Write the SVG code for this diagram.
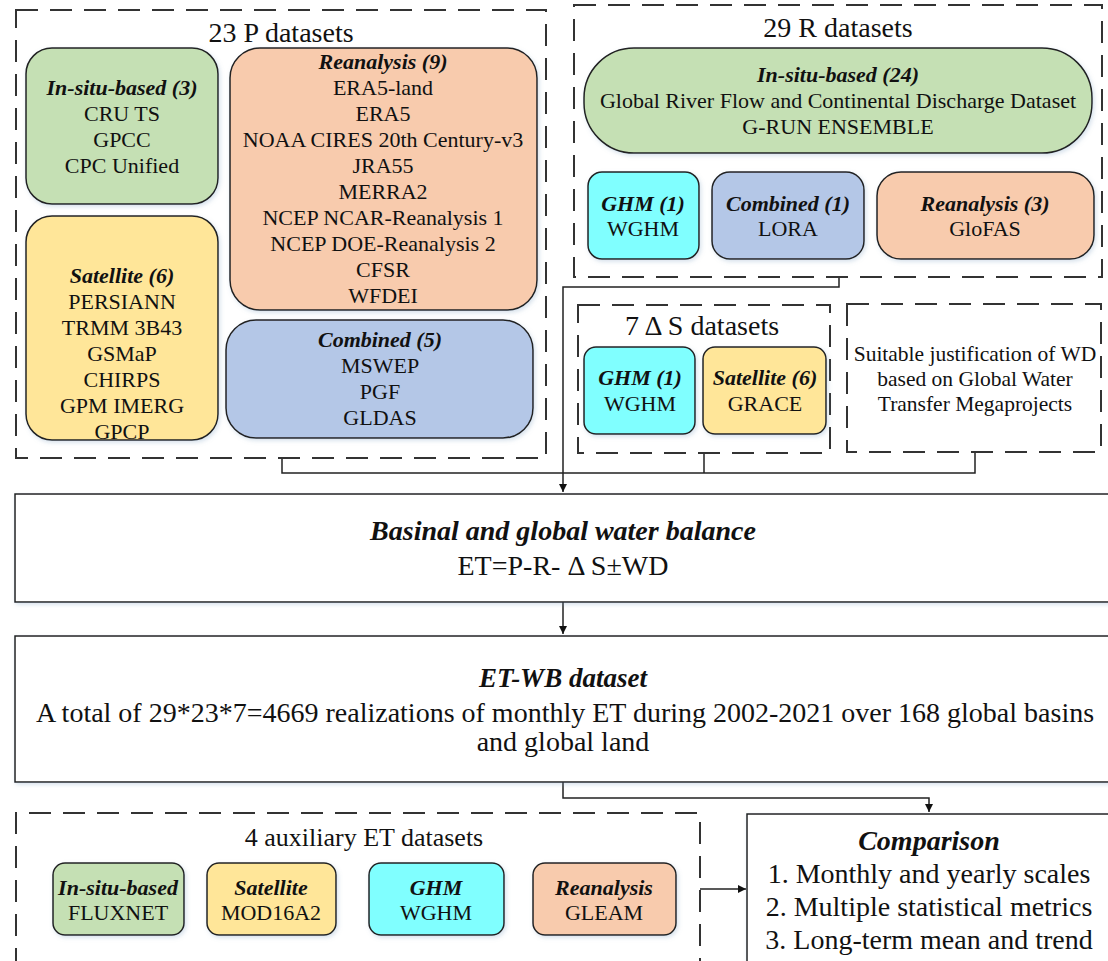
<svg xmlns="http://www.w3.org/2000/svg" width="1108" height="961" viewBox="0 0 1108 961">
<defs>
<style>
text{font-family:"Liberation Serif","Times New Roman",serif;fill:#111;text-anchor:middle;dominant-baseline:central}
.t{font-size:28px}
.s{font-size:22px}
.h{font-size:22px;font-weight:bold;font-style:italic}
.hl{font-size:28px;font-weight:bold;font-style:italic}
.w{font-size:21.5px}
.dash{fill:none;stroke:#333;stroke-width:2;stroke-dasharray:22 12}
.box{stroke:#222;stroke-width:1.5;filter:url(#sh)}
.g{fill:#C5E0B4}.p{fill:#F8CBAD}.y{fill:#FFE699}.b{fill:#B4C7E7}.c{fill:#80FFFF}
.main{fill:#fff;stroke:#222;stroke-width:1.5;filter:url(#sh)}
.ln{fill:none;stroke:#222;stroke-width:1.5}
</style>
<filter id="sh" x="-10%" y="-10%" width="120%" height="130%">
<feDropShadow dx="1.5" dy="2" stdDeviation="2" flood-color="#7a9cc0" flood-opacity="0.3"/>
</filter>
<marker id="arr" viewBox="0 0 10 10" refX="10" refY="5" markerWidth="8" markerHeight="8" markerUnits="userSpaceOnUse" orient="auto">
<path d="M0,0 L10,5 L0,10 z" fill="#111"/>
</marker>
</defs>
<rect width="1108" height="961" fill="#fff"/>

<g id="connectors">
<polyline class="ln" points="839,277 839,287 563,287 563,492" marker-end="url(#arr)"/>
<polyline class="ln" points="282,458 282,473 975,473 975,452"/>
<line class="ln" x1="704" y1="453" x2="704" y2="473"/>
<line class="ln" x1="563" y1="602" x2="563" y2="634" marker-end="url(#arr)"/>
<polyline class="ln" points="563,782 563,798 929,798 929,812" marker-end="url(#arr)"/>
<line class="ln" x1="700" y1="889" x2="746" y2="889" marker-end="url(#arr)"/>
</g>

<g id="p-group">
<rect class="dash" x="16" y="10" width="530" height="448"/>
<text class="t" x="281" y="32">23 P datasets</text>
</g>
<g id="p-insitu">
<rect class="box g" x="26" y="48" width="192" height="156" rx="26"/>
<text class="h" x="122" y="87">In-situ-based (3)</text>
<text class="s" x="122" y="113">CRU TS</text>
<text class="s" x="122" y="139">GPCC</text>
<text class="s" x="122" y="165">CPC Unified</text>
</g>
<g id="p-reanalysis">
<rect class="box p" x="230" y="48" width="307" height="262" rx="30"/>
<text class="h" x="383" y="61">Reanalysis (9)</text>
<text class="s" x="383" y="87">ERA5-land</text>
<text class="s" x="383" y="113">ERA5</text>
<text class="s" x="383" y="139">NOAA CIRES 20th Century-v3</text>
<text class="s" x="383" y="165">JRA55</text>
<text class="s" x="383" y="191">MERRA2</text>
<text class="s" x="383" y="217">NCEP NCAR-Reanalysis 1</text>
<text class="s" x="383" y="243">NCEP DOE-Reanalysis 2</text>
<text class="s" x="383" y="269">CFSR</text>
<text class="s" x="383" y="295">WFDEI</text>
</g>
<g id="p-satellite">
<rect class="box y" x="26" y="216" width="192" height="224" rx="26"/>
<text class="h" x="122" y="275">Satellite (6)</text>
<text class="s" x="122" y="301">PERSIANN</text>
<text class="s" x="122" y="327">TRMM 3B43</text>
<text class="s" x="122" y="353">GSMaP</text>
<text class="s" x="122" y="379">CHIRPS</text>
<text class="s" x="122" y="405">GPM IMERG</text>
<text class="s" x="122" y="431">GPCP</text>
</g>
<g id="p-combined">
<rect class="box b" x="226" y="320" width="307" height="118" rx="30"/>
<text class="h" x="380" y="339">Combined (5)</text>
<text class="s" x="380" y="365">MSWEP</text>
<text class="s" x="380" y="391">PGF</text>
<text class="s" x="380" y="417">GLDAS</text>
</g>

<g id="r-group">
<rect class="dash" x="574" y="5" width="528" height="272"/>
<text class="t" x="838" y="27">29 R datasets</text>
</g>
<g id="r-insitu">
<rect class="box g" x="584" y="48" width="508" height="105" rx="50"/>
<text class="h" x="838" y="74">In-situ-based (24)</text>
<text class="s" x="838" y="100">Global River Flow and Continental Discharge Dataset</text>
<text class="s" x="838" y="126">G-RUN ENSEMBLE</text>
</g>
<g id="r-ghm">
<rect class="box c" x="588" y="172" width="111" height="87" rx="14"/>
<text class="h" x="643" y="203">GHM (1)</text>
<text class="s" x="643" y="228">WGHM</text>
</g>
<g id="r-combined">
<rect class="box b" x="712" y="172" width="152" height="87" rx="18"/>
<text class="h" x="788" y="203">Combined (1)</text>
<text class="s" x="788" y="228">LORA</text>
</g>
<g id="r-reanalysis">
<rect class="box p" x="877" y="172" width="217" height="87" rx="24"/>
<text class="h" x="985" y="203">Reanalysis (3)</text>
<text class="s" x="985" y="228">GloFAS</text>
</g>

<g id="s-group">
<rect class="dash" x="578" y="305" width="252" height="148"/>
<text class="t" x="702" y="325">7 Δ S datasets</text>
</g>
<g id="s-ghm">
<rect class="box c" x="584" y="347" width="111" height="87" rx="12"/>
<text class="h" x="640" y="377">GHM (1)</text>
<text class="s" x="640" y="403">WGHM</text>
</g>
<g id="s-satellite">
<rect class="box y" x="703" y="347" width="123" height="87" rx="12"/>
<text class="h" x="765" y="377">Satellite (6)</text>
<text class="s" x="765" y="403">GRACE</text>
</g>
<g id="wd">
<rect class="dash" x="847" y="304" width="254" height="148"/>
<text class="w" x="975" y="354">Suitable justification of WD</text>
<text class="w" x="975" y="379">based on Global Water</text>
<text class="w" x="975" y="404">Transfer Megaprojects</text>
</g>

<g id="balance">
<rect class="main" x="15" y="494" width="1100" height="108"/>
<text class="hl" x="563" y="530">Basinal and global water balance</text>
<text class="t" x="563" y="565">ET=P-R- Δ S±WD</text>
</g>
<g id="etwb">
<rect class="main" x="15" y="636" width="1100" height="146"/>
<text class="hl" x="563" y="678" style="font-size:27px">ET-WB dataset</text>
<text class="t" x="565" y="712">A total of 29*23*7=4669 realizations of monthly ET during 2002-2021 over 168 global basins</text>
<text class="t" x="563" y="741">and global land</text>
</g>

<g id="aux-group">
<path class="dash" d="M16,970 L16,813 L700,813 L700,970"/>
<text class="t" x="364" y="837" style="font-size:26px">4 auxiliary ET datasets</text>
</g>
<g id="aux-insitu">
<rect class="box g" x="53" y="863" width="131" height="72" rx="12"/>
<text class="h" x="118" y="887">In-situ-based</text>
<text class="s" x="118" y="912">FLUXNET</text>
</g>
<g id="aux-satellite">
<rect class="box y" x="207" y="863" width="129" height="72" rx="12"/>
<text class="h" x="271" y="887">Satellite</text>
<text class="s" x="271" y="912">MOD16A2</text>
</g>
<g id="aux-ghm">
<rect class="box c" x="369" y="863" width="135" height="72" rx="12"/>
<text class="h" x="436" y="887">GHM</text>
<text class="s" x="436" y="912">WGHM</text>
</g>
<g id="aux-reanalysis">
<rect class="box p" x="533" y="863" width="143" height="72" rx="12"/>
<text class="h" x="604" y="887">Reanalysis</text>
<text class="s" x="604" y="912">GLEAM</text>
</g>

<g id="comparison">
<rect class="main" x="747" y="814" width="380" height="160"/>
<text class="hl" x="929" y="840">Comparison</text>
<text class="t" x="929" y="873">1. Monthly and yearly scales</text>
<text class="t" x="929" y="906">2. Multiple statistical metrics</text>
<text class="t" x="929" y="939">3. Long-term mean and trend</text>
</g>
</svg>
